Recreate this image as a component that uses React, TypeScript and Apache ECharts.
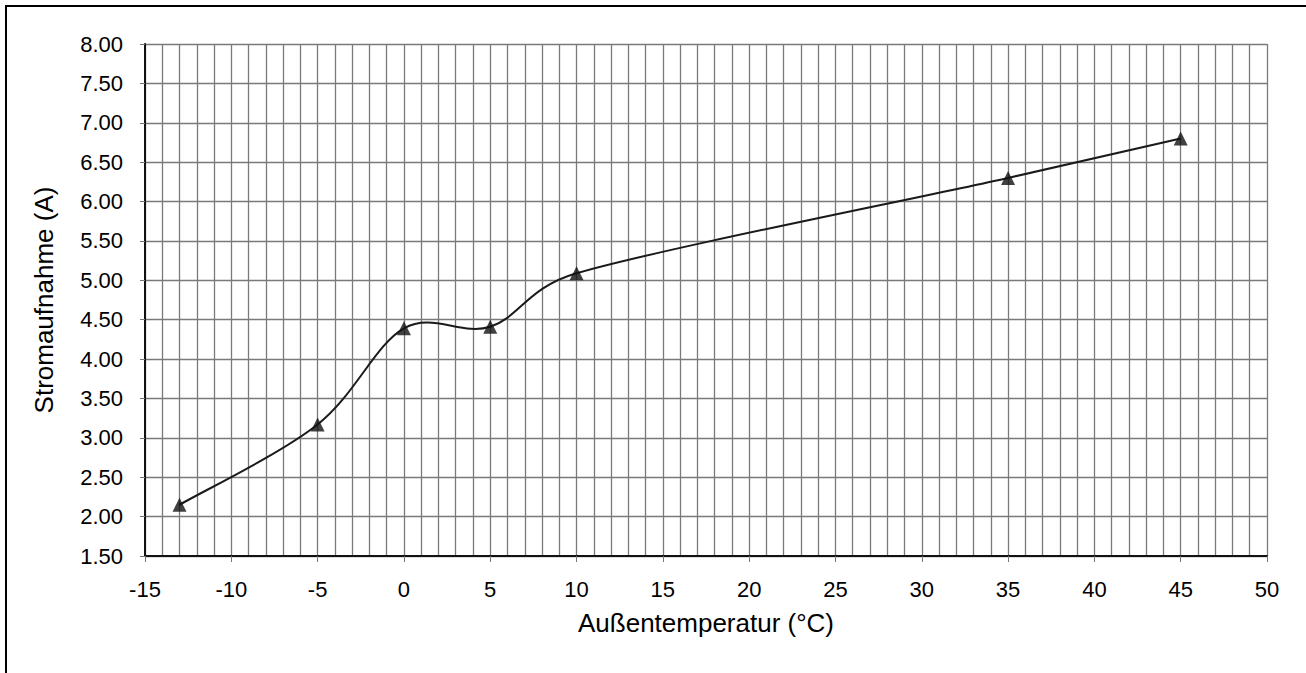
import React, { useEffect, useRef } from "react";
import * as echarts from "echarts";

const temperatures = [-13, -5, 0, 5, 10, 35, 45];
const currents = [2.15, 3.17, 4.39, 4.41, 5.09, 6.3, 6.8];
const xTitle = "Außentemperatur (°C)";
const yTitle = "Stromaufnahme (A)";

export default function App() {
  const ref = useRef<HTMLDivElement>(null);
  useEffect(() => {
    if (!ref.current) return;
    const chart = echarts.init(ref.current, undefined, { renderer: "svg" });
    const font = "'Liberation Sans', Arial, sans-serif";
    const points = temperatures.map((t, i) => [t, currents[i]]);
    const dist = (a: number[], b: number[]) => Math.hypot(a[0] - b[0], a[1] - b[1]);
    chart.setOption({
      animation: false,
      backgroundColor: "#fff",
      grid: { left: 145, top: 44, right: 39, bottom: 117, containLabel: false },
      graphic: [
        {
          type: "rect",
          shape: { x: 6, y: 6, width: 2000, height: 2000 },
          style: { fill: "none", stroke: "#000", lineWidth: 2 },
          silent: true,
        },
      ],
      xAxis: {
        type: "value",
        min: -15,
        max: 50,
        interval: 5,
        name: xTitle,
        nameLocation: "middle",
        nameGap: 54,
        nameTextStyle: { fontFamily: font, fontSize: 26, color: "#000" },
        axisLine: { show: true, onZero: false, lineStyle: { color: "#111", width: 2 } },
        axisTick: { show: true, inside: false, length: 6, lineStyle: { color: "#777", width: 1 } },
        axisLabel: { fontFamily: font, fontSize: 22, color: "#000", margin: 22 },
        splitLine: { show: true, lineStyle: { color: "#7a7a7a", width: 1.3 } },
        minorTick: { show: false, splitNumber: 5 },
        minorSplitLine: { show: true, lineStyle: { color: "#7a7a7a", width: 1.3 } },
      },
      yAxis: {
        type: "value",
        min: 1.5,
        max: 8,
        interval: 0.5,
        name: yTitle,
        nameLocation: "middle",
        nameGap: 88,
        nameTextStyle: { fontFamily: font, fontSize: 26, color: "#000" },
        axisLine: { show: true, onZero: false, lineStyle: { color: "#111", width: 2 } },
        axisTick: { show: true, inside: false, length: 5, lineStyle: { color: "#777", width: 1 } },
        axisLabel: {
          fontFamily: font,
          fontSize: 22,
          color: "#000",
          margin: 22,
          formatter: (v: number) => v.toFixed(2),
        },
        splitLine: { show: true, lineStyle: { color: "#7a7a7a", width: 1.3 } },
      },
      series: [
        {
          type: "custom",
          data: points,
          renderItem: (params: any, api: any) => {
            const i = params.dataIndex;
            if (i >= points.length - 1) return null;
            const c = points.map((p) => api.coord(p));
            const p0 = c[Math.max(i - 1, 0)];
            const p1 = c[i];
            const p2 = c[i + 1];
            const p3 = c[Math.min(i + 2, c.length - 1)];
            const f = 1 / 6;
            const d12 = dist(p1, p2);
            const d02 = dist(p0, p2);
            const d13 = dist(p1, p3);
            const f1 = d02 > 0 && f * d02 > d12 / 2 ? d12 / (2 * d02) : f;
            const f2 = d13 > 0 && f * d13 > d12 / 2 ? d12 / (2 * d13) : f;
            return {
              type: "bezierCurve",
              shape: {
                x1: p1[0],
                y1: p1[1],
                x2: p2[0],
                y2: p2[1],
                cpx1: p1[0] + (p2[0] - p0[0]) * f1,
                cpy1: p1[1] + (p2[1] - p0[1]) * f1,
                cpx2: p2[0] - (p3[0] - p1[0]) * f2,
                cpy2: p2[1] - (p3[1] - p1[1]) * f2,
              },
              style: { fill: "none", stroke: "#1a1a1a", lineWidth: 2 },
              silent: true,
            };
          },
          z: 3,
        },
        {
          type: "scatter",
          data: points,
          symbol: "triangle",
          symbolSize: 14,
          itemStyle: { color: "#111" },
          z: 4,
        },
      ],
    });
    return () => chart.dispose();
  }, []);
  return (
    <div
      ref={ref}
      style={{ position: "fixed", left: 0, top: 0, width: 1306, height: 673 }}
    />
  );
}
